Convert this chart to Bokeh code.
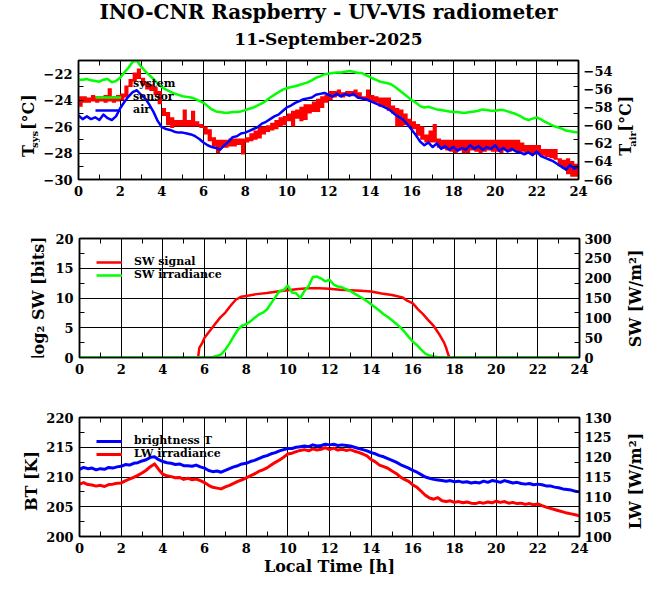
import math
from bokeh.plotting import figure
from bokeh.models import (Range1d, LinearAxis, SingleIntervalTicker,
                          Legend, LegendItem, CustomJSTickFormatter)
from bokeh.core.properties import value
from bokeh.layouts import column, row
from bokeh.embed import file_html
from bokeh.resources import INLINE

FONT = "DejaVu Serif"
RED, GREEN, BLUE = "#ff0000", "#00ff00", "#0000ff"

# ---------------- data ----------------
hours = [round(0.2 * i, 1) for i in range(121)]

# panel 1: system temperature (quantised, flickering band), sensor temperature, air temperature
tsys_system_hi = [
    -23.7, -23.7, -23.8, -23.6, -23.7, -23.7, -23.6, -23.1, -23.7, -23.6,
    -23.5, -22.9, -22.4, -21.9, -21.6, -22.3, -22.6, -22.8, -23.0, -23.3,
    -24.6, -24.9, -25.3, -25.5, -25.5, -24.7, -25.5, -24.8, -25.6, -25.8,
    -26.0, -26.2, -26.8, -27.0, -27.0, -27.0, -26.9, -26.9, -26.9, -26.9,
    -26.8, -26.5, -26.3, -26.0, -26.0, -25.9, -25.7, -25.5, -25.3, -25.2,
    -25.0, -24.8, -24.7, -24.5, -24.3, -24.3, -24.1, -23.9, -23.7, -23.6,
    -23.3, -23.3, -23.2, -23.4, -23.3, -23.3, -23.2, -23.4, -23.7, -23.2,
    -23.6, -23.7, -23.8, -23.8, -23.8, -24.4, -24.6, -24.7, -25.0, -25.4,
    -25.6, -25.8, -26.0, -26.6, -26.3, -25.8, -26.9, -27.0, -27.0, -27.0,
    -27.0, -27.0, -27.0, -27.0, -27.0, -27.0, -27.0, -27.0, -27.0, -27.0,
    -27.0, -27.0, -27.0, -27.0, -27.0, -27.0, -27.2, -27.4, -27.4, -27.4,
    -27.4, -27.7, -27.7, -27.7, -27.7, -28.4, -28.5, -28.4, -28.6, -28.8,
    -28.8]
tsys_system_lo = [
    -24.5, -24.2, -24.2, -24.1, -24.2, -24.1, -24.2, -24.1, -24.2, -24.1,
    -24.0, -23.8, -23.0, -22.6, -22.4, -22.9, -23.2, -23.3, -23.6, -24.3,
    -25.2, -25.9, -26.1, -26.0, -26.0, -26.0, -26.0, -26.0, -26.0, -26.1,
    -26.6, -27.1, -27.5, -28.0, -27.6, -27.6, -27.5, -27.5, -27.4, -28.1,
    -27.2, -27.1, -27.0, -26.9, -26.6, -26.4, -26.3, -26.2, -26.0, -25.9,
    -25.6, -26.0, -25.4, -25.6, -25.5, -25.0, -24.9, -24.9, -24.6, -24.2,
    -24.0, -23.8, -23.7, -23.8, -23.7, -23.7, -23.7, -23.9, -24.0, -24.0,
    -24.2, -24.2, -24.5, -24.5, -24.8, -25.0, -26.0, -26.0, -25.9, -26.0,
    -26.2, -26.7, -27.0, -27.2, -27.2, -27.2, -27.6, -27.7, -27.8, -27.9,
    -28.0, -27.8, -28.0, -28.0, -27.8, -27.9, -28.0, -27.9, -27.8, -27.9,
    -27.9, -28.0, -27.8, -27.9, -27.8, -27.9, -27.9, -28.0, -28.0, -28.1,
    -28.1, -28.2, -28.3, -28.4, -28.5, -29.0, -29.2, -29.6, -29.8, -29.8,
    -29.8]
tsys_sensor = [
    -22.45, -22.45, -22.4, -22.5, -22.55, -22.6, -22.45, -22.4, -22.65, -22.55,
    -22.3, -21.9, -21.55, -21.1, -21.0, -21.45, -21.8, -22.1, -22.4, -22.75,
    -23.0, -23.2, -23.35, -23.5, -23.6, -23.7, -23.75, -23.8, -23.9, -24.05,
    -24.2, -24.45, -24.7, -24.85, -24.9, -24.95, -24.95, -24.9, -24.9, -24.85,
    -24.75, -24.65, -24.55, -24.4, -24.25, -24.05, -23.8, -23.6, -23.4, -23.2,
    -23.1, -23.0, -22.95, -22.85, -22.75, -22.65, -22.5, -22.3, -22.2, -22.05,
    -22.0, -21.95, -21.9, -21.9, -21.85, -21.8, -21.85, -21.95, -21.95, -22.1,
    -22.25, -22.4, -22.55, -22.65, -22.7, -22.8, -23.0, -23.25, -23.5, -23.75,
    -24.0, -24.2, -24.45, -24.55, -24.5, -24.6, -24.7, -24.75, -24.8, -24.85,
    -24.9, -24.9, -24.95, -24.95, -24.9, -24.85, -24.8, -24.7, -24.75, -24.8,
    -24.8, -24.75, -24.75, -24.85, -24.95, -25.05, -25.2, -25.4, -25.5, -25.4,
    -25.3, -25.45, -25.65, -25.8, -25.95, -26.05, -26.15, -26.3, -26.35, -26.4,
    -26.45]
tair = [
    -58.9, -59.3, -59.0, -59.3, -59.1, -59.4, -58.8, -59.2, -59.4, -59.0,
    -58.1, -57.4, -56.8, -56.3, -56.1, -56.6, -57.0, -57.7, -58.5, -59.5,
    -60.2, -60.4, -60.5, -60.7, -60.8, -60.8, -60.9, -61.0, -61.2, -61.5,
    -61.9, -62.2, -62.4, -62.5, -62.7, -62.2, -61.8, -61.3, -61.2, -60.9,
    -60.8, -60.6, -60.4, -60.2, -59.8, -59.6, -59.3, -59.0, -58.8, -58.4,
    -58.0, -57.8, -57.5, -57.3, -57.1, -57.0, -56.9, -56.6, -56.5, -56.4,
    -56.6, -56.8, -56.5, -56.8, -56.5, -56.7, -56.5, -56.9, -57.0, -57.1,
    -57.3, -57.5, -57.7, -57.9, -58.1, -58.4, -58.8, -59.1, -59.4, -59.9,
    -60.5, -61.1, -61.8, -62.2, -61.9, -62.4, -62.0, -62.6, -62.3, -62.7,
    -62.4, -62.8, -62.5, -62.7, -62.2, -62.6, -62.3, -62.7, -62.4, -62.6,
    -62.2, -62.8, -62.5, -62.9, -62.6, -62.9, -63.0, -63.2, -63.0, -63.3,
    -62.9, -63.4, -63.6, -63.8, -64.0, -64.3, -64.6, -64.9, -64.4, -64.8,
    -64.5]

# panel 2: SW signal (log2 bits) and SW irradiance (W/m2)
sw_signal_hours = [5.7, 5.75, 5.9, 6.0, 6.25, 6.5, 6.75, 7.0, 7.25, 7.5, 7.75,
                   8.0, 8.5, 9.0, 9.5, 10.0, 10.5, 11.0, 11.5, 12.0, 12.5, 13.0,
                   13.5, 14.0, 14.5, 15.0, 15.5, 15.75, 16.0, 16.25, 16.5, 16.75,
                   17.0, 17.25, 17.5, 17.6, 17.7, 17.75]
sw_signal = [0.2, 1.6, 2.5, 3.3, 4.45, 5.6, 6.7, 7.55, 8.7, 9.7, 10.2,
             10.35, 10.65, 10.85, 11.1, 11.3, 11.5, 11.65, 11.65, 11.55, 11.4, 11.3,
             11.2, 11.1, 10.75, 10.5, 10.1, 9.5, 9.1, 8.1, 7.25, 6.25,
             5.3, 4.0, 2.5, 1.6, 0.5, 0.05]
sw_irradiance = [
    0, 0, 0, 0, 0, 0, 0, 0, 0, 0,
    0, 0, 0, 0, 0, 0, 0, 0, 0, 0,
    0, 0, 0, 0, 0, 0, 0, 0, 0, 0,
    0, 0, 1.5, 4, 8, 20, 35, 53, 70, 80,
    84, 91, 100, 108, 113, 121, 137, 152, 168, 170,
    181, 164, 162, 150, 168, 180, 203, 204, 199, 192,
    196, 184, 179, 177, 172, 168, 161, 155, 149, 142,
    134, 126, 118, 109, 102, 94, 85, 76, 65, 52,
    40, 31, 20, 10, 5, 2.5, 1, 0.5, 0, 0,
    0, 0, 0, 0, 0, 0, 0, 0, 0, 0,
    0, 0, 0, 0, 0, 0, 0, 0, 0, 0,
    0, 0, 0, 0, 0, 0, 0, 0, 0, 0,
    0]

# panel 3: brightness temperature (K) and LW irradiance (W/m2)
brightness_t = [
    211.3, 211.6, 211.4, 211.5, 211.2, 211.4, 211.3, 211.6, 211.5, 211.7,
    211.8, 212.1, 212.0, 212.3, 212.4, 212.7, 212.9, 213.3, 213.4, 212.9,
    212.6, 212.4, 212.3, 212.1, 212.2, 211.9, 211.9, 211.8, 212.0, 211.7,
    211.5, 211.1, 210.9, 211.0, 210.8, 211.1, 211.4, 211.7, 211.9, 212.2,
    212.3, 212.6, 212.8, 213.1, 213.4, 213.6, 213.9, 214.1, 214.4, 214.6,
    214.8, 214.8, 215.0, 215.1, 215.2, 215.1, 215.4, 215.2, 215.3, 215.5,
    215.4, 215.5, 215.3, 215.4, 215.3, 215.2, 215.0, 214.8, 214.6, 214.4,
    214.1, 213.9, 213.6, 213.4, 213.1, 212.8, 212.5, 212.1, 211.8, 211.5,
    211.1, 210.8, 210.4, 210.0, 209.8, 209.6, 209.5, 209.4, 209.3, 209.4,
    209.2, 209.3, 209.1, 209.2, 209.0, 209.1, 209.0, 209.3, 209.1, 209.4,
    209.3, 209.1, 209.4, 209.2, 209.0, 209.1, 208.9, 208.8, 208.9, 208.7,
    208.8, 208.7, 208.5, 208.5, 208.3, 208.2, 208.0, 207.9, 207.8, 207.6,
    207.5]
lw_irradiance = [
    113.2, 113.6, 113.1, 113.0, 112.7, 112.9, 112.6, 113.1, 113.2, 113.4,
    113.5, 114.0, 114.5, 114.9, 115.4, 116.0, 116.7, 117.6, 118.3, 116.9,
    115.7, 115.3, 115.1, 114.8, 114.9, 114.4, 114.7, 114.3, 114.5, 114.1,
    113.6, 112.9, 112.4, 112.2, 112.0, 112.5, 112.9, 113.4, 113.9, 114.3,
    114.8, 115.3, 115.8, 116.4, 116.8, 117.3, 118.0, 118.7, 119.3, 120.0,
    120.8, 121.0, 121.4, 121.7, 121.9, 121.6, 122.1, 121.8, 122.0, 122.4,
    121.9, 122.3, 121.8, 122.0, 121.7, 121.9, 121.5, 121.2, 120.8, 120.3,
    119.4, 118.8, 118.0, 117.6, 117.2, 116.5, 115.9, 115.0, 114.4, 113.9,
    113.0, 112.4, 111.4, 110.4, 109.7, 109.4, 109.8, 109.0, 108.8, 109.0,
    108.6, 108.8, 108.5, 108.7, 108.4, 108.3, 108.6, 108.4, 108.7, 108.5,
    108.9, 108.6, 108.8, 108.4, 108.6, 108.3, 108.4, 108.1, 108.3, 108.0,
    108.2, 107.8, 107.4, 107.1, 106.8, 106.5, 106.2, 105.9, 105.7, 105.5,
    105.2]

TITLE = "INO-CNR Raspberry - UV-VIS radiometer"
DATE = "11-September-2025"

# ---------------- geometry ----------------
FRAME_LEFT = 78
FRAME_W, FRAME_H = 500, 119
RIGHT_BORDER = 30
RLAB_W = 44
TITLE_H = 56
TOTAL_W = 656
LW = 2.5


# ---------------- helpers ----------------
def style_axis(ax, tick_len=5, standoff=6):
    ax.axis_line_color = "black"
    ax.axis_line_width = 1.5
    ax.major_tick_in = tick_len
    ax.major_tick_out = 0
    ax.minor_tick_in = tick_len
    ax.minor_tick_out = 0
    ax.major_tick_line_color = "black"
    ax.minor_tick_line_color = "black"
    ax.major_tick_line_width = 1
    ax.minor_tick_line_width = 1
    ax.major_label_text_font = FONT
    ax.major_label_text_font_style = "bold"
    ax.major_label_text_font_size = "13px"
    ax.major_label_text_color = "black"
    ax.major_label_standoff = standoff


def mirror_axis(ticker, **kw):
    ax = LinearAxis(ticker=ticker, formatter=CustomJSTickFormatter(code="return ''"), **kw)
    style_axis(ax, standoff=0)
    ax.major_label_text_font_size = "1px"
    return ax


def panel(y_rng, y2_rng, y_step, y2_step, left, top, bottom):
    p = figure(x_range=Range1d(0, 24), y_range=Range1d(*y_rng),
               frame_width=FRAME_W, frame_height=FRAME_H,
               min_border_left=left, min_border_right=RIGHT_BORDER,
               min_border_top=top, min_border_bottom=bottom,
               toolbar_location=None, output_backend="svg")
    p.extra_y_ranges = {"y2": Range1d(*y2_rng)}
    p.background_fill_color = "white"
    p.border_fill_color = "white"
    p.outline_line_color = "black"
    p.outline_line_width = 1.5
    xt = SingleIntervalTicker(interval=2, num_minor_ticks=2)
    yt = SingleIntervalTicker(interval=y_step, num_minor_ticks=2)
    xax = p.below[0]
    yax = p.left[0]
    xax.ticker = xt
    yax.ticker = yt
    p.xgrid.ticker = xt
    p.ygrid.ticker = yt
    p.xgrid.grid_line_color = "black"
    p.ygrid.grid_line_color = "black"
    p.xgrid.grid_line_width = 1
    p.ygrid.grid_line_width = 1
    style_axis(xax)
    style_axis(yax)
    p.add_layout(mirror_axis(xt), "above")
    p.add_layout(mirror_axis(yt), "right")
    y2_ax = LinearAxis(y_range_name="y2",
                       ticker=SingleIntervalTicker(interval=y2_step, num_minor_ticks=0))
    style_axis(y2_ax, tick_len=0, standoff=5)
    y2_ax.axis_line_color = None
    p.add_layout(y2_ax, "right")
    return p


def add_legend(p, items):
    lg = Legend(items=[LegendItem(label=l, renderers=[r]) for l, r in items],
                location="top_left", margin=17, padding=0, spacing=0,
                glyph_width=26, glyph_height=12, label_height=12, label_standoff=12,
                background_fill_alpha=0, border_line_alpha=0,
                label_text_font=FONT, label_text_font_style="bold",
                label_text_font_size="11px", label_text_color="black")
    p.add_layout(lg)


def text_fig(w, h):
    f = figure(width=w, height=h, x_range=Range1d(0, w), y_range=Range1d(0, h),
               min_border=0, x_axis_location=None, y_axis_location=None,
               toolbar_location=None, output_backend="svg")
    f.grid.visible = False
    f.outline_line_color = None
    f.background_fill_color = "white"
    f.border_fill_color = "white"
    return f


def put(f, x, y, text, size="16px", angle=math.pi / 2, align="left"):
    # (x, y) is the visual centre line of the text
    f.text(x=[x], y=[y], text=[text], angle=angle, text_align=align,
           text_baseline="middle", text_font=value(FONT),
           text_font_style="bold", text_font_size=size, text_color="black")


# ---------------- title ----------------
title_fig = text_fig(TOTAL_W, TITLE_H)
put(title_fig, 328, TITLE_H - 11.7, TITLE, size="20px", angle=0, align="center")
put(title_fig, 328, TITLE_H - 38.3, DATE, size="17px", angle=0, align="center")

# ---------------- panel 1 ----------------
L1 = 40
H1 = 4 + FRAME_H + 30
p1 = panel((-30, -21), (-66, -52.8), 2, 2, FRAME_LEFT - L1, 4, 30)
p1.varea_step(x=hours, y1=tsys_system_lo, y2=tsys_system_hi, step_mode="after",
              fill_color=RED, fill_alpha=1)
sys_proxy = p1.line(x=[], y=[], line_color=RED, line_width=LW)
r_sensor = p1.line(x=hours, y=tsys_sensor, line_color=GREEN, line_width=LW)
r_air = p1.line(x=hours, y=tair, y_range_name="y2", line_color=BLUE, line_width=LW,
                line_join="round")
add_legend(p1, [("system", sys_proxy), ("sensor", r_sensor), ("air", r_air)])

l1 = text_fig(L1, H1)
yc = H1 - 30 - FRAME_H / 2
put(l1, 27.5, yc - 34.5, "T")
put(l1, 33.5, yc - 23, "sys", size="10px")
put(l1, 27.5, yc, "[°C]")
X0_1 = 613
r1 = text_fig(RLAB_W, H1)
put(r1, 623 - X0_1, yc - 33, "T")
put(r1, 629.5 - X0_1, yc - 21.5, "air", size="10px")
put(r1, 623 - X0_1, yc - 2, "[°C]")

# ---------------- panel 2 ----------------
L2 = 52
H2 = 29 + FRAME_H + 30
X0_2 = 611
p2 = panel((0, 20), (0, 300), 5, 50, FRAME_LEFT - L2, 29, 30)
r_sig = p2.line(x=sw_signal_hours, y=sw_signal, line_color=RED, line_width=LW)
r_swi = p2.line(x=hours, y=sw_irradiance, y_range_name="y2", line_color=GREEN,
                line_width=LW, line_join="round")
add_legend(p2, [("SW signal", r_sig), ("SW irradiance", r_swi)])
l2 = text_fig(L2, H2)
yc2 = H2 - 30 - FRAME_H / 2
put(l2, 37.5, yc2, "log\u2082 SW [bits]", align="center")
r2 = text_fig(RLAB_W, H2)
put(r2, 631.5 - X0_2, yc2, "SW [W/m\u00b2]", align="center")

# ---------------- panel 3 ----------------
L3 = 43
H3 = 30 + FRAME_H + 43
X0_3 = 611
p3 = panel((200, 220), (100, 130), 5, 5, FRAME_LEFT - L3, 30, 43)
r_bt = p3.line(x=hours, y=brightness_t, line_color=BLUE, line_width=3, line_join="round")
r_lw = p3.line(x=hours, y=lw_irradiance, y_range_name="y2", line_color=RED,
               line_width=3, line_join="round")
add_legend(p3, [("brightness T", r_bt), ("LW irradiance", r_lw)])
xax3 = p3.below[0]
xax3.axis_label = "Local Time [h]"
xax3.axis_label_text_font = FONT
xax3.axis_label_text_font_style = "bold"
xax3.axis_label_text_font_size = "16px"
xax3.axis_label_text_color = "black"
xax3.axis_label_standoff = 1
l3 = text_fig(L3, H3)
yc3 = H3 - 43 - FRAME_H / 2
put(l3, 30.8, yc3, "BT [K]", align="center")
r3 = text_fig(RLAB_W, H3)
put(r3, 631.5 - X0_3, yc3, "LW [W/m\u00b2]", align="center")

layout = column(title_fig,
                row(l1, p1, r1, spacing=0),
                row(l2, p2, r2, spacing=0),
                row(l3, p3, r3, spacing=0),
                spacing=0)
open("out.html", "w").write(file_html(layout, INLINE))
